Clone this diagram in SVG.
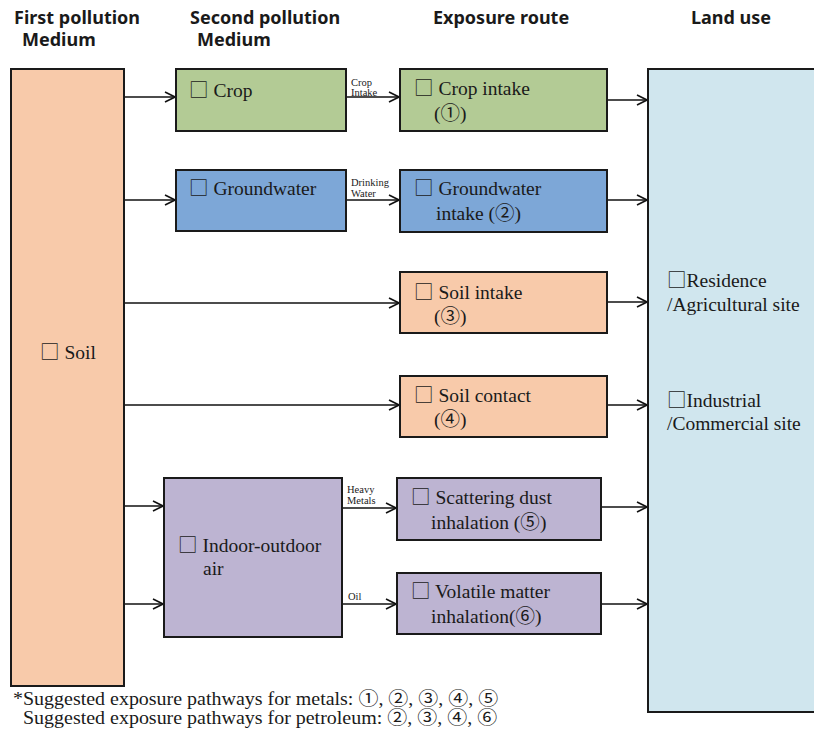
<svg xmlns="http://www.w3.org/2000/svg" width="814" height="755" viewBox="0 0 814 755">
<defs>
<marker id="ah" viewBox="0 0 12 12" refX="11" refY="6" markerWidth="12" markerHeight="12" markerUnits="userSpaceOnUse" orient="auto">
<path d="M1,1 L11,6 L1,11" fill="none" stroke="#111" stroke-width="1.6"/>
</marker>
</defs>
<style>
.box{stroke:#1a1a1a;stroke-width:2}
.peach{fill:#F8CAAA}
.green{fill:#B3CB95}
.blue{fill:#7DA7D7}
.purple{fill:#BDB4D2}
.lblue{fill:#D0E6EE}
.hdr{font-family:"Malgun Gothic","Noto Sans","Open Sans","DejaVu Sans",sans-serif;font-weight:bold;font-size:18px;fill:#1a1a1a}
.t{font-family:"Liberation Serif","DejaVu Serif",serif;font-size:19.5px;fill:#1a1a1a}
.s{font-family:"Liberation Serif","DejaVu Serif",serif;font-size:10.5px;fill:#1a1a1a}
.f{font-family:"Liberation Serif","DejaVu Serif",serif;font-size:18px;fill:#1a1a1a}
.g{font-family:"Noto Sans CJK KR","DejaVu Sans",sans-serif;font-weight:normal}
.c{fill:none;stroke:#111;stroke-width:1.6;marker-end:url(#ah)}
</style>
<rect width="814" height="755" fill="#fff"/>

<g id="headers">
<text class="hdr" x="14" y="24">First pollution</text>
<text class="hdr" x="22" y="46">Medium</text>
<text class="hdr" x="190" y="24">Second pollution</text>
<text class="hdr" x="197" y="46">Medium</text>
<text class="hdr" x="433" y="24">Exposure route</text>
<text class="hdr" x="691" y="24">Land use</text>
</g>

<g id="connectors">
<path class="c" d="M124,97 H175"/>
<path class="c" d="M124,200 H175"/>
<path class="c" d="M124,303 H399"/>
<path class="c" d="M124,405 H399"/>
<path class="c" d="M124,506 H163"/>
<path class="c" d="M124,604 H163"/>
<path class="c" d="M346,97 H399"/>
<path class="c" d="M346,200 H399"/>
<path class="c" d="M342,508 H396"/>
<path class="c" d="M342,604 H396"/>
<path class="c" d="M607,100 H647"/>
<path class="c" d="M607,200 H647"/>
<path class="c" d="M607,302 H647"/>
<path class="c" d="M607,405 H647"/>
<path class="c" d="M601,507 H647"/>
<path class="c" d="M601,604 H647"/>
<text class="s" x="351" y="86">Crop</text>
<text class="s" x="351" y="96">Intake</text>
<text class="s" x="351" y="186">Drinking</text>
<text class="s" x="351" y="197">Water</text>
<text class="s" x="347" y="493">Heavy</text>
<text class="s" x="347" y="504">Metals</text>
<text class="s" x="348" y="600">Oil</text>
</g>

<g id="soil">
<rect class="box peach" x="11" y="69" width="113" height="617"/>
<text class="t" x="40" y="359"><tspan class="g">□</tspan> Soil</text>
</g>

<g id="crop">
<rect class="box green" x="176" y="69" width="170" height="62"/>
<text class="t" x="189" y="97"><tspan class="g">□</tspan> Crop</text>
</g>

<g id="groundwater">
<rect class="box blue" x="176" y="170" width="170" height="61"/>
<text class="t" x="189" y="195"><tspan class="g">□</tspan> Groundwater</text>
</g>

<g id="indoor-air">
<rect class="box purple" x="164" y="478" width="178" height="159"/>
<text class="t" x="178" y="552"><tspan class="g">□</tspan> Indoor-outdoor</text>
<text class="t" x="203" y="575">air</text>
</g>

<g id="crop-intake">
<rect class="box green" x="400" y="69" width="207" height="62"/>
<text class="t" x="414" y="95"><tspan class="g">□</tspan> Crop intake</text>
<text class="t" x="434" y="120">(<tspan class="g">①</tspan>)</text>
</g>

<g id="groundwater-intake">
<rect class="box blue" x="400" y="170" width="207" height="62"/>
<text class="t" x="414" y="195"><tspan class="g">□</tspan> Groundwater</text>
<text class="t" x="436" y="220">intake (<tspan class="g">②</tspan>)</text>
</g>

<g id="soil-intake">
<rect class="box peach" x="400" y="272" width="207" height="61"/>
<text class="t" x="414" y="299"><tspan class="g">□</tspan> Soil intake</text>
<text class="t" x="434" y="323">(<tspan class="g">③</tspan>)</text>
</g>

<g id="soil-contact">
<rect class="box peach" x="400" y="376" width="207" height="61"/>
<text class="t" x="414" y="402"><tspan class="g">□</tspan> Soil contact</text>
<text class="t" x="434" y="426">(<tspan class="g">④</tspan>)</text>
</g>

<g id="scattering-dust">
<rect class="box purple" x="397" y="478" width="204" height="62"/>
<text class="t" x="411" y="504"><tspan class="g">□</tspan> Scattering dust</text>
<text class="t" x="431" y="529">inhalation (<tspan class="g">⑤</tspan>)</text>
</g>

<g id="volatile-matter">
<rect class="box purple" x="397" y="573" width="204" height="61"/>
<text class="t" x="411" y="598"><tspan class="g">□</tspan> Volatile matter</text>
<text class="t" x="431" y="623">inhalation(<tspan class="g">⑥</tspan>)</text>
</g>

<g id="land-use">
<rect class="box lblue" x="648" y="69" width="175" height="643"/>
<text class="t" x="667" y="287"><tspan class="g">□</tspan>Residence</text>
<text class="t" x="667" y="311">/Agricultural site</text>
<text class="t" x="667" y="407"><tspan class="g">□</tspan>Industrial</text>
<text class="t" x="667" y="430">/Commercial site</text>
</g>

<g id="footnote">
<text class="f" transform="translate(13,705) scale(1.11,1)">*Suggested exposure pathways for metals: <tspan class="g">①</tspan>, <tspan class="g">②</tspan>, <tspan class="g">③</tspan>, <tspan class="g">④</tspan>, <tspan class="g">⑤</tspan></text>
<text class="f" transform="translate(23,724) scale(1.11,1)">Suggested exposure pathways for petroleum: <tspan class="g">②</tspan>, <tspan class="g">③</tspan>, <tspan class="g">④</tspan>, <tspan class="g">⑥</tspan></text>
</g>
</svg>
